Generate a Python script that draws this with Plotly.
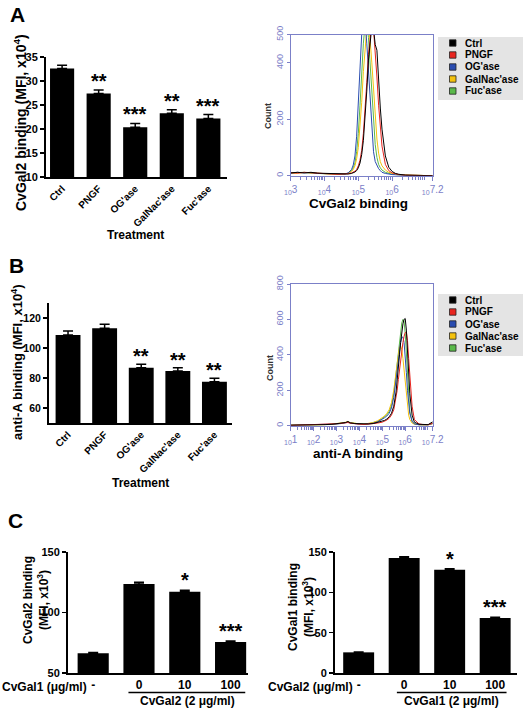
import plotly.graph_objects as go

W, H = 525, 715
FONT = "Arial, 'Liberation Sans', Helvetica, sans-serif"
HCOL = "#7b80c8"

# ---------------- data ----------------
treat_cats = ["Ctrl", "PNGF", "OG'ase", "GalNac'ase", "Fuc'ase"]
a_vals = [32.6, 27.4, 20.35, 23.3, 22.2]
a_err = [0.7, 0.7, 0.8, 0.7, 0.8]
a_stars = ["", "**", "***", "**", "***"]

b_vals = [108.7, 113.1, 86.9, 84.7, 77.5]
b_err = [2.6, 2.7, 2.2, 2.2, 2.3]
b_stars = ["", "", "**", "**", "**"]

c_cats = ["-", "0", "10", "100"]
c1_vals = [66.4, 123.5, 117.2, 75.7]
c1_err = [0.6, 1.4, 1.1, 0.8]
c1_stars = ["", "", "*", "***"]
c2_vals = [25.6, 142.6, 128.1, 68.2]
c2_err = [0.4, 1.6, 1.2, 0.8]
c2_stars = ["", "", "*", "***"]

hist_names = ["Ctrl", "PNGF", "OG'ase", "GalNac'ase", "Fuc'ase"]
hist_colors = ["#000000", "#e8251f", "#2a4cb0", "#f4c20d", "#5ab94a"]

# Histogram A (CvGal2 binding): log10 fluorescence bins and counts
ha_logx = [3.0, 3.2, 3.4, 3.6, 3.8, 4.0, 4.2, 4.4, 4.6, 4.7, 4.8, 4.85, 4.9, 4.95, 5.0,
           5.05, 5.1, 5.15, 5.2, 5.25, 5.3, 5.35, 5.4, 5.45, 5.5, 5.55, 5.6, 5.65, 5.7,
           5.8, 5.9, 6.0, 6.1, 6.2, 6.4, 6.6, 6.8, 7.0, 7.2]
ha_ctrl = [10, 12, 10, 12, 9, 8, 6, 5, 4, 6, 8, 10, 13, 18, 28, 45, 75, 125, 200, 300, 410,
           490, 530, 520, 465, 445, 330, 240, 165, 70, 30, 15, 8, 5, 2, 1, 1, 1, 0]
ha_pngf = [11, 9, 12, 10, 9, 8, 6, 5, 5, 7, 10, 12, 16, 22, 35, 55, 90, 150, 230, 330, 430,
           510, 540, 520, 450, 350, 250, 165, 105, 40, 18, 10, 6, 4, 2, 1, 1, 1, 0]
ha_og = [9, 12, 10, 11, 8, 7, 6, 5, 6, 10, 22, 38, 70, 140, 250, 390, 500, 555, 550, 470, 370,
         250, 150, 85, 50, 35, 25, 18, 12, 8, 5, 4, 3, 2, 1, 1, 1, 0, 0]
ha_galnac = [8, 10, 11, 10, 8, 7, 6, 5, 6, 8, 15, 22, 35, 60, 100, 170, 260, 370, 460, 520, 530,
             480, 400, 300, 200, 130, 80, 50, 35, 20, 12, 8, 5, 3, 2, 1, 1, 1, 0]
ha_fuc = [10, 11, 12, 9, 9, 7, 6, 5, 6, 9, 18, 28, 45, 85, 150, 250, 370, 470, 535, 540, 490,
          390, 280, 180, 110, 65, 40, 28, 20, 12, 8, 5, 4, 3, 2, 1, 1, 1, 0]

# Histogram B (anti-A binding)
hb_logx = [1.0, 1.5, 2.0, 2.5, 2.8, 3.0, 3.2, 3.4, 3.5, 3.6, 3.8, 4.0, 4.2, 4.4, 4.6, 4.8,
           5.0, 5.1, 5.2, 5.3, 5.4, 5.5, 5.6, 5.65, 5.7, 5.75, 5.8, 5.85, 5.9, 5.95, 6.0,
           6.05, 6.1, 6.15, 6.2, 6.3, 6.4, 6.6, 6.8, 7.0, 7.2]
hb_ctrl = [3, 3, 4, 6, 8, 11, 14, 18, 24, 16, 12, 10, 8, 10, 12, 18, 25, 30, 38, 50, 70, 110,
           190, 250, 320, 400, 470, 530, 575, 600, 605, 540, 420, 290, 180, 60, 20, 8, 5, 6, 22]
hb_pngf = [2, 4, 3, 5, 7, 11, 13, 15, 18, 14, 10, 9, 7, 9, 10, 15, 20, 25, 32, 42, 60, 90,
           150, 200, 260, 320, 380, 430, 470, 505, 525, 530, 480, 380, 270, 110, 35, 10, 6, 5, 15]
hb_og = [2, 3, 4, 5, 8, 10, 12, 16, 20, 15, 11, 9, 8, 10, 14, 22, 35, 45, 55, 70, 100, 160,
         260, 320, 380, 430, 470, 500, 500, 470, 400, 300, 200, 120, 70, 25, 10, 5, 4, 5, 12]
hb_galnac = [3, 2, 4, 6, 9, 12, 15, 20, 22, 18, 13, 10, 9, 12, 18, 28, 45, 55, 70, 90, 130, 200,
             300, 360, 410, 445, 450, 430, 380, 310, 230, 160, 100, 60, 35, 15, 8, 5, 4, 5, 10]
hb_fuc = [2, 3, 3, 5, 7, 10, 13, 17, 20, 16, 12, 9, 8, 11, 16, 25, 40, 50, 62, 80, 115, 180,
          290, 360, 430, 490, 540, 580, 600, 590, 520, 400, 260, 150, 80, 25, 10, 5, 4, 5, 15]

ha_series = [ha_ctrl, ha_pngf, ha_og, ha_galnac, ha_fuc]
hb_series = [hb_ctrl, hb_pngf, hb_og, hb_galnac, hb_fuc]

# ---------------- helpers ----------------
def fx(p):
    return p / W


def fy(p):
    return 1 - p / H


def bold(size, color="black"):
    return dict(family=FONT, size=size, color=color, weight="bold")


fig = go.Figure()
annotations = []
shapes = []


def bar_panel(ax, cats, vals, errs, stars, width, star_shift):
    xa = "x" if ax == 1 else f"x{ax}"
    ya = "y" if ax == 1 else f"y{ax}"
    fig.add_trace(go.Bar(
        x=cats, y=vals, width=width, marker=dict(color="black", line=dict(width=0)),
        error_y=dict(type="data", array=errs, arrayminus=[0] * len(errs), symmetric=False,
                     color="black", thickness=1.5, width=5),
        xaxis=xa, yaxis=ya, showlegend=False))
    for i, (v, e, s) in enumerate(zip(vals, errs, stars)):
        if s:
            annotations.append(dict(x=i, y=v + e, xref=xa, yref=ya, text=s, showarrow=False,
                                    yanchor="bottom", yshift=star_shift, font=bold(20)))


bar_panel(1, treat_cats, a_vals, a_err, a_stars, 0.66, -4)
bar_panel(3, treat_cats, b_vals, b_err, b_stars, 0.68, -5)
bar_panel(5, c_cats, c1_vals, c1_err, c1_stars, 0.68, -3)
bar_panel(6, c_cats, c2_vals, c2_err, c2_stars, 0.68, -3)


def hist_panel(ax, logx, series):
    xa, ya = f"x{ax}", f"y{ax}"
    order = [4, 3, 2, 1, 0]
    for i in order:
        fig.add_trace(go.Scatter(
            x=[10 ** v for v in logx], y=series[i], mode="lines",
            line=dict(color=hist_colors[i], width=1), name=hist_names[i],
            xaxis=xa, yaxis=ya, showlegend=False))


hist_panel(2, ha_logx, ha_series)
hist_panel(4, hb_logx, hb_series)

# ---------------- axes ----------------
bar_x = dict(showline=True, linecolor="black", linewidth=2, ticks="", showgrid=False,
             zeroline=False, type="category", fixedrange=True, automargin=False)
bar_y = dict(showline=True, linecolor="black", linewidth=2, ticks="outside", ticklen=4,
             tickwidth=1.5, tickcolor="black", showgrid=False, zeroline=False,
             fixedrange=True, automargin=False)


def minor_vals(d0, d1, hi):
    return [m * 10 ** d for d in range(d0, d1) for m in range(2, 10) if m * 10 ** d < hi]


hist_x = dict(type="log", showline=True, mirror=True, linecolor=HCOL, linewidth=1,
              ticks="outside", ticklen=4, tickcolor=HCOL, showgrid=False, zeroline=False,
              automargin=False, fixedrange=True,
              tickfont=dict(family=FONT, size=10, color=HCOL))
hist_y = dict(showline=True, mirror=True, linecolor=HCOL, linewidth=1, ticks="outside",
              ticklen=3, tickcolor=HCOL, showgrid=False, zeroline=False, tickangle=-90,
              automargin=False, fixedrange=True,
              tickfont=dict(family=FONT, size=9, color=HCOL))

fig.update_layout(
    xaxis=dict(bar_x, domain=[fx(46), fx(227)], anchor="y", range=[-0.44, 4.51],
               tickangle=-45, tickfont=bold(10)),
    yaxis=dict(bar_y, domain=[fy(177), fy(57)], anchor="x", range=[10, 35],
               tickvals=[10, 15, 20, 25, 30, 35], tickfont=bold(11)),
    xaxis3=dict(bar_x, domain=[fx(49), fx(232)], anchor="y3", range=[-0.52, 4.48],
                tickangle=-45, tickfont=bold(10)),
    yaxis3=dict(bar_y, domain=[fy(423), fy(303)], anchor="x3", range=[50, 130],
                tickvals=[60, 80, 100, 120], tickfont=bold(10.5)),
    xaxis5=dict(bar_x, domain=[fx(68), fx(248)], anchor="y5", range=[-0.55, 3.38],
                tickfont=bold(12)),
    yaxis5=dict(bar_y, domain=[fy(673), fy(552)], anchor="x5", range=[50, 150],
                tickvals=[50, 100, 150], tickfont=bold(11)),
    xaxis6=dict(bar_x, domain=[fx(335), fx(517)], anchor="y6", range=[-0.52, 3.48],
                tickfont=bold(12)),
    yaxis6=dict(bar_y, domain=[fy(673), fy(552)], anchor="x6", range=[0, 150],
                tickvals=[0, 50, 100, 150], tickfont=bold(11)),
    xaxis2=dict(hist_x, domain=[fx(290.7), fx(432.7)], anchor="y2", range=[3, 7.2],
                tickvals=[1e3, 1e4, 1e5, 1e6, 10 ** 7.2],
                ticktext=["<sub>10</sub>3", "<sub>10</sub>4", "<sub>10</sub>5",
                          "<sub>10</sub>6", "<sub>10</sub>7.2"],
                minor=dict(ticks="outside", ticklen=3, tickcolor=HCOL,
                           tickvals=minor_vals(3, 7, 10 ** 7.2))),
    yaxis2=dict(hist_y, domain=[fy(175.7), fy(34.7)], anchor="x2", range=[0, 500],
                tickvals=[0, 200, 400, 500]),
    xaxis4=dict(hist_x, domain=[fx(290.7), fx(432.7)], anchor="y4", range=[1, 7.2],
                tickvals=[1e1, 1e2, 1e3, 1e4, 1e5, 1e6, 10 ** 7.2],
                ticktext=["<sub>10</sub>1", "<sub>10</sub>2", "<sub>10</sub>3",
                          "<sub>10</sub>4", "<sub>10</sub>5", "<sub>10</sub>6",
                          "<sub>10</sub>7.2"],
                minor=dict(ticks="outside", ticklen=3, tickcolor=HCOL,
                           tickvals=minor_vals(1, 7, 10 ** 7.2))),
    yaxis4=dict(hist_y, domain=[fy(425.7), fy(284)], anchor="x4", range=[0, 800],
                tickvals=[0, 200, 400, 600, 800]),
)

# ---------------- text ----------------
def pa(x, y, text, size, angle=0, xanchor="center", yanchor="middle", color="black"):
    annotations.append(dict(x=fx(x), y=fy(y), xref="paper", yref="paper", text=text,
                            showarrow=False, textangle=angle, xanchor=xanchor,
                            yanchor=yanchor, font=bold(size, color)))


pa(17, 15, "A", 21)
pa(16, 265, "B", 21)
pa(15, 520, "C", 21)

pa(20, 123, "CvGal2 binding (MFI, x10<sup>4</sup>)", 14, angle=-90)
pa(17, 362, "anti-A binding (MFI, x10<sup>4</sup>)", 13, angle=-90)
pa(135, 235, "Treatment", 12)
pa(140, 483, "Treatment", 12)

pa(358, 204, "CvGal2 binding", 13.5)
pa(358, 453, "anti-A binding", 13.5)
pa(268, 116, "Count", 9, angle=-90, color="#333333")
pa(270, 368, "Count", 9, angle=-90, color="#333333")

pa(36, 600, "CvGal2 binding<br>(MFI, x10<sup>3</sup>)", 12, angle=-90)
pa(301, 607, "CvGal1 binding<br>(MFI, x10<sup>3</sup>)", 12, angle=-90)

pa(89, 687, "CvGal1 (μg/ml)", 12, xanchor="right")
pa(355, 687, "CvGal2 (μg/ml)", 12, xanchor="right")

for xa, x0, x1, lab in [("x5", 0.77, 3.32, "CvGal2 (2 μg/ml)"),
                        ("x6", 0.84, 3.25, "CvGal1 (2 μg/ml)")]:
    shapes.append(dict(type="line", xref=xa, yref="paper", x0=x0, x1=x1,
                       y0=fy(692.5), y1=fy(692.5), line=dict(color="black", width=1.5)))
    annotations.append(dict(x=2.05, y=fy(701), xref=xa, yref="paper", text=lab,
                            showarrow=False, font=bold(12), yanchor="middle"))

# ---------------- legends (drawn keys) ----------------
for top, bottom, rows in [(37, 100, [43, 55, 67, 79, 91]),
                          (294, 356, [300, 312, 324, 336, 348])]:
    shapes.append(dict(type="rect", xref="paper", yref="paper", x0=fx(438), x1=fx(523),
                       y0=fy(bottom), y1=fy(top), fillcolor="#e4e4e4", line=dict(width=0),
                       layer="below"))
    for name, col, ry in zip(hist_names, hist_colors, rows):
        shapes.append(dict(type="rect", xref="paper", yref="paper", x0=fx(449.5),
                           x1=fx(456), y0=fy(ry + 3.2), y1=fy(ry - 3.2), fillcolor=col,
                           line=dict(color="#222222", width=0.8)))
        pa(462.5, ry, name, 10, xanchor="left")

fig.update_layout(
    width=W, height=H, margin=dict(l=0, r=0, t=0, b=0, autoexpand=False),
    paper_bgcolor="white", plot_bgcolor="white",
    font=dict(family=FONT), showlegend=False, bargap=0.3, hovermode=False,
    annotations=annotations, shapes=shapes,
)

fig.write_html(
    "out.html",
    config={"displayModeBar": False, "staticPlot": True},
    post_script="document.body.style.margin='0';document.body.style.overflow='hidden';"
                "document.documentElement.style.overflow='hidden';",
)
